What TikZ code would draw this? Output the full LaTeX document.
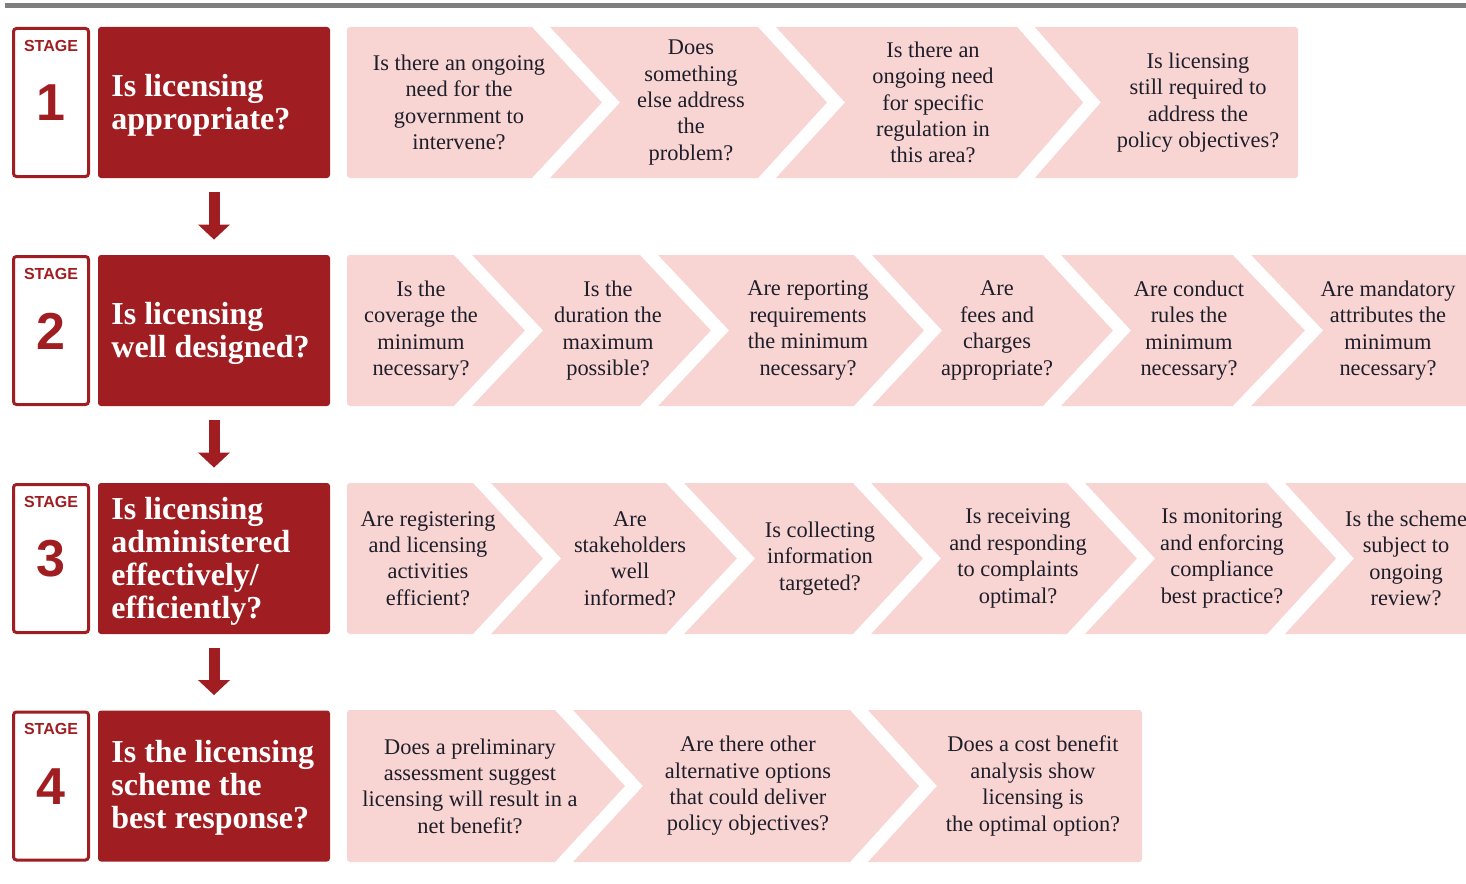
\documentclass[tikz,border=0pt]{standalone}
\usepackage{fontspec}
\setmainfont{Liberation Serif}
\newfontfamily\stagefont{Liberation Sans}
\usetikzlibrary{arrows.meta}
\definecolor{stagered}{HTML}{A01E22}
\definecolor{chevpink}{HTML}{F8D5D3}
\definecolor{rulegray}{HTML}{7F7F7F}
\definecolor{qtext}{HTML}{1E1E2A}
\tikzset{
  stagebox/.style={draw=stagered, line width=1.5pt, fill=white, rounded corners=1.5pt,
    minimum width=37.5pt, minimum height=74pt, inner sep=0pt},
  titlebox/.style={fill=stagered, rounded corners=1.5pt,
    minimum width=116pt, minimum height=75.5pt, inner sep=0pt},
  titletext/.style={anchor=west, align=left, text=white, inner sep=0pt,
    font=\bfseries\fontsize{16}{16.5}\selectfont},
  stagelabel/.style={text=stagered, inner sep=0pt, font=\stagefont\bfseries\fontsize{8}{8}\selectfont},
  stagenum/.style={text=stagered, inner sep=0pt, font=\stagefont\bfseries\fontsize{26}{26}\selectfont},
  band/.style={fill=chevpink, rounded corners=1.5pt},
  gapline/.style={draw=white, line width=6.5pt, line cap=rect, line join=miter},
  question/.style={align=center, text=qtext, inner sep=0pt, font=\fontsize{11.2}{13.2}\selectfont},
  stagearrow/.style={draw=stagered, line width=5.5pt, -{Triangle[width=15.5pt,length=7.5pt]},
    shorten <=7pt, shorten >=7.5pt}
}
\begin{document}
\begin{tikzpicture}[x=0.5pt, y=-0.5pt]
  \useasboundingbox (0,0) rectangle (1466,883);
  \clip (0,0) rectangle (1466,883);
  \draw[rulegray, line width=2.5pt] (5,6) -- (1466,6);

  \fill[band] (347,27) rectangle (1298,178);
  \fill[band] (347,255) rectangle (1480,406);
  \fill[band] (347,483) rectangle (1480,634);
  \fill[band] (347,710) rectangle (1142,862);
  \foreach \t/\m in {541/611, 767/836, 1026/1092}
    \draw[gapline] (\t,27) -- (\m,102.5) -- (\t,178);
  \foreach \t/\m in {463/534, 649/720, 863/933, 1052/1122, 1242/1314}
    \draw[gapline] (\t,255) -- (\m,330.5) -- (\t,406);
  \foreach \t/\m in {482/552, 675/746, 862/932, 1076/1146, 1276/1345}
    \draw[gapline] (\t,483) -- (\m,558.5) -- (\t,634);
  \foreach \t/\m in {564/634, 859/928}
    \draw[gapline] (\t,710) -- (\m,786) -- (\t,862);

  \node[stagebox] (s1) at (51,102.5) {};
  \node[stagebox] (s2) at (51,330.5) {};
  \node[stagebox] (s3) at (51,558.5) {};
  \node[stagebox] (s4) at (51,786) {};
  \node[stagelabel] (l1) at (51,45.5) {STAGE};
  \node[stagelabel] (l2) at (51,273.5) {STAGE};
  \node[stagelabel] (l3) at (51,501.5) {STAGE};
  \node[stagelabel] (l4) at (51,729) {STAGE};
  \node[stagenum] (n1) at (51,103) {1};
  \node[stagenum] (n2) at (51,331) {2};
  \node[stagenum] (n3) at (51,559) {3};
  \node[stagenum] (n4) at (51,786.5) {4};

  \node[titlebox] (r1) at (214,102.5) {};
  \node[titlebox] (r2) at (214,330.5) {};
  \node[titlebox] (r3) at (214,558.5) {};
  \node[titlebox] (r4) at (214,786) {};
  \node[titletext] (t1) at (111,105) {Is licensing\\appropriate?};
  \node[titletext] (t2) at (111,333) {Is licensing\\well designed?};
  \node[titletext] (t3) at (111,561) {Is licensing\\administered\\effectively/\\efficiently?};
  \node[titletext] (t4) at (111,788) {Is the licensing\\scheme the\\best response?};

  \draw[stagearrow] (r1) -- (r2);
  \draw[stagearrow] (r2) -- (r3);
  \draw[stagearrow] (r3) -- (r4);

  \node[question] (q11) at (459,102.5) {Is there an ongoing\\need for the\\government to\\intervene?};
  \node[question] (q12) at (691,102.5) {Does\\something\\else address\\the\\problem?};
  \node[question] (q13) at (933,102.5) {Is there an\\ongoing need\\for specific\\regulation in\\this area?};
  \node[question] (q14) at (1198,102.5) {Is licensing\\still required to\\address the\\policy objectives?};

  \node[question] (q21) at (421,330.5) {Is the\\coverage the\\minimum\\necessary?};
  \node[question] (q22) at (608,330.5) {Is the\\duration the\\maximum\\possible?};
  \node[question] (q23) at (808,330.5) {Are reporting\\requirements\\the minimum\\necessary?};
  \node[question] (q24) at (997,330.5) {Are\\fees and\\charges\\appropriate?};
  \node[question] (q25) at (1189,330.5) {Are conduct\\rules the\\minimum\\necessary?};
  \node[question] (q26) at (1388,330.5) {Are mandatory\\attributes the\\minimum\\necessary?};

  \node[question] (q31) at (428,558.5) {Are registering\\and licensing\\activities\\efficient?};
  \node[question] (q32) at (630,558.5) {Are\\stakeholders\\well\\informed?};
  \node[question] (q33) at (820,558.5) {Is collecting\\information\\targeted?};
  \node[question] (q34) at (1018,558.5) {Is receiving\\and responding\\to complaints\\optimal?};
  \node[question] (q35) at (1222,558.5) {Is monitoring\\and enforcing\\compliance\\best practice?};
  \node[question] (q36) at (1406,558.5) {Is the scheme\\subject to\\ongoing\\review?};

  \node[question] (q41) at (470,786) {Does a preliminary\\assessment suggest\\licensing will result in a\\net benefit?};
  \node[question] (q42) at (748,786) {Are there other\\alternative options\\that could deliver\\policy objectives?};
  \node[question] (q43) at (1033,786) {Does a cost benefit\\analysis show\\licensing is\\the optimal option?};
\end{tikzpicture}
\end{document}
